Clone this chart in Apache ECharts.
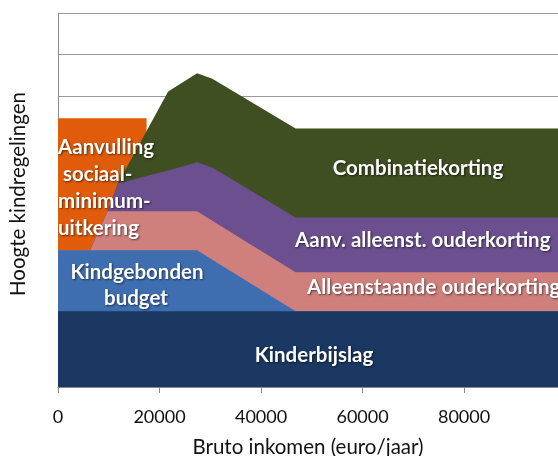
<!DOCTYPE html>
<html>
<head>
<meta charset="utf-8">
<script src="https://cdn.jsdelivr.net/npm/echarts@6/dist/echarts.min.js"></script>
<style>
  html, body { margin: 0; padding: 0; background: #fff; }
  #chart { width: 558px; height: 456px; }
</style>
</head>
<body>
<div id="chart"></div>
<script>
// bruto inkomen (euro/jaar) - gemeenschappelijke punten voor de gestapelde reeksen
const incomes = [0, 6300, 9800, 11800, 21700, 27400, 30400, 46800, 98500]
const kinderbijslag = [1.82, 1.82, 1.82, 1.82, 1.82, 1.82, 1.82, 1.82, 1.82]
const kindgebondenBudget = [1.47, 1.47, 1.47, 1.47, 1.47, 1.47, 1.24, 0, 0]
const alleenstaandeOuderkorting = [0, 0, 0.94, 0.94, 0.94, 0.94, 0.94, 0.94, 0.94]
const aanvAlleenstOuderkorting = [0, 0, 0, 0.67, 0.98, 1.18, 1.28, 1.32, 1.32]
const combinatiekorting = [0, 0, 0, 0, 1.9, 2.14, 2.14, 2.14, 2.14]
// aanvulling sociaal minimum ligt los achter de stapel
const aanvullingIncomes = [0, 17450, 17450]
const aanvullingValues = [6.47, 6.47, 0]
const xTicks = [0, 20000, 40000, 60000, 80000]

// stack op een value-as stapelt in echarts de x-waarden, dus zelf optellen
const layers = [
  { name: 'Kinderbijslag', values: kinderbijslag, color: '#1b3862' },
  { name: 'Kindgebonden budget', values: kindgebondenBudget, color: '#3f6eb0' },
  { name: 'Alleenstaande ouderkorting', values: alleenstaandeOuderkorting, color: '#cf7f7c' },
  { name: 'Aanv. alleenst. ouderkorting', values: aanvAlleenstOuderkorting, color: '#6b4f8e' },
  { name: 'Combinatiekorting', values: combinatiekorting, color: '#3f4f21' }
]
let running = incomes.map(() => 0)
layers.forEach(l => {
  running = running.map((v, i) => v + l.values[i])
  l.totals = running
})

const areaSeries = (name, xs, ys, color) => ({
  name: name,
  type: 'line',
  data: xs.map((x, i) => [x, ys[i]]),
  symbol: 'none',
  lineStyle: { width: 0 },
  areaStyle: { color: color, opacity: 1 },
  emphasis: { disabled: true }
})

const labelStyle = {
  fill: '#fff',
  font: 'bold 20.5px Lato',
  textShadowColor: 'rgba(0,0,0,0.55)',
  textShadowBlur: 2,
  textShadowOffsetX: 1,
  textShadowOffsetY: 1
}
const label = (x, y, text, align) => ({
  type: 'text',
  x: x,
  y: y,
  z: 100,
  style: Object.assign({ text: text, textAlign: align || 'center', textVerticalAlign: 'middle' }, labelStyle)
})

const myChart = echarts.init(document.getElementById('chart'))
const option = {
  animation: false,
  grid: { left: 58, right: 0, top: 13, bottom: 69, outerBoundsMode: 'none' },
  xAxis: {
    type: 'value',
    min: 0,
    max: 98500,
    interval: 20000,
    name: 'Bruto inkomen (euro/jaar)',
    nameLocation: 'middle',
    nameGap: 50,
    nameMoveOverlap: false,
    nameTextStyle: { fontFamily: 'Lato', fontSize: 20.5, color: '#111' },
    axisLine: { show: true, lineStyle: { color: '#8c8c8c' } },
    axisTick: { show: true, length: 6, lineStyle: { color: '#8c8c8c' } },
    axisLabel: {
      margin: 21,
      fontFamily: 'Lato',
      fontSize: 18,
      color: '#111',
      showMaxLabel: false,
      formatter: v => (xTicks.indexOf(v) >= 0 ? String(v) : '')
    },
    splitLine: { show: false }
  },
  yAxis: {
    type: 'value',
    min: 0,
    max: 9,
    interval: 1,
    name: 'Hoogte kindregelingen',
    nameLocation: 'middle',
    nameGap: 29,
    nameMoveOverlap: false,
    nameTextStyle: { fontFamily: 'Lato', fontSize: 20.5, color: '#111', padding: [0, 0, 0, 12] },
    axisLine: { show: true, lineStyle: { color: '#8c8c8c' } },
    axisTick: { show: false },
    axisLabel: { show: false },
    splitLine: { show: true, lineStyle: { color: '#999', width: 1 } }
  },
  series: [areaSeries('Aanvulling sociaal-minimum-uitkering', aanvullingIncomes, aanvullingValues, '#e05b0a')]
    .concat(layers.slice().reverse().map(l => areaSeries(l.name, incomes, l.totals, l.color))),
  graphic: [
    label(58, 147, 'Aanvulling', 'left'),
    label(58, 174, ' sociaal-', 'left'),
    label(58, 201, 'minimum-', 'left'),
    label(58, 228, 'uitkering', 'left'),
    label(137, 272, 'Kindgebonden'),
    label(136, 298, 'budget'),
    label(314, 355, 'Kinderbijslag'),
    label(307, 287, 'Alleenstaande ouderkorting', 'left'),
    label(295, 240, 'Aanv. alleenst. ouderkorting', 'left'),
    label(418, 168, 'Combinatiekorting')
  ]
}
myChart.setOption(option)
</script>
</body>
</html>
